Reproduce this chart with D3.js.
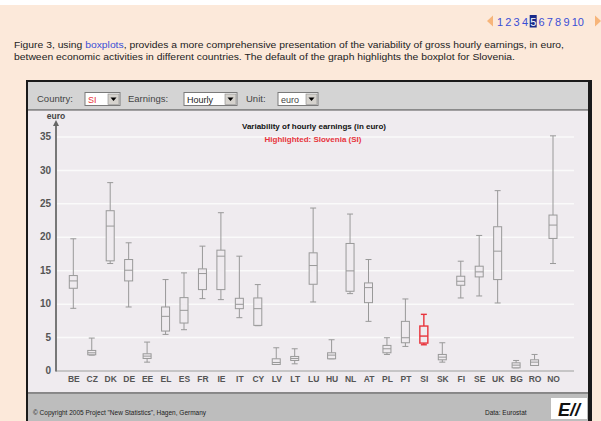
<!DOCTYPE html>
<html>
<head>
<meta charset="utf-8">
<script src="https://cdn.jsdelivr.net/npm/d3@7"></script>
<style>
  body { margin: 0; background: #fce9da; }
  svg { display: block; font-family: "Liberation Sans", Arial, sans-serif; }
</style>
</head>
<body>
<script>
// country codes along the x axis
var countries = ["BE","CZ","DK","DE","EE","EL","ES","FR","IE","IT","CY","LV","LT","LU",
                 "HU","NL","AT","PL","PT","SI","SK","FI","SE","UK","BG","RO","NO"];
// boxplot values per country (euro / hour)
var whiskLow = [9.3, 2.3, 16.0, 9.5, 1.25, 5.4, 6.1, 10.75, 10.6, 7.9, 6.7, 0.9, 1.0, 10.25,
                1.75, 11.5, 7.35, 2.4, 3.6, 3.85, 1.25, 10.85, 11.15, 10.1, 0.4, 0.75, 16.0];
var q1 =       [12.3, 2.35, 16.4, 13.4, 1.8, 5.9, 7.1, 12.1, 12.1, 9.25, 6.75, 0.9, 1.5, 12.9,
                1.75, 11.85, 10.15, 2.65, 4.15, 4.1, 1.6, 12.75, 14.0, 13.6, 0.4, 0.75, 19.75];
var medians =  [13.4, 2.65, 21.6, 15.0, 2.15, 8.1, 9.0, 14.5, 17.1, 9.9, 9.25, 1.2, 1.8, 15.7,
                2.3, 14.9, 12.4, 3.25, 4.9, 5.15, 2.0, 13.35, 14.75, 17.85, 0.8, 1.25, 21.75];
var q3 =       [14.2, 3.0, 23.9, 16.6, 2.5, 9.5, 10.9, 15.2, 18.0, 10.8, 10.85, 1.75, 2.1, 17.6,
                2.65, 19.0, 13.1, 3.75, 7.35, 6.65, 2.4, 14.1, 15.6, 21.5, 1.15, 1.6, 23.25];
var whiskHigh = [19.7, 4.85, 28.1, 19.1, 4.25, 13.6, 14.6, 18.6, 23.6, 17.1, 12.85, 3.4, 3.25, 24.3,
                4.6, 23.4, 16.6, 4.9, 10.7, 8.4, 4.15, 16.35, 20.2, 26.9, 1.5, 2.4, 35.1];
var highlight = "SI";
var yTicks = [0, 5, 10, 15, 20, 25, 30, 35];
var pages = ["1","2","3","4","5","6","7","8","9","10"];

var W = 601, H = 421;
var svg = d3.select("body").append("svg").attr("width", W).attr("height", H);

// page background
svg.append("rect").attr("width", W).attr("height", H).attr("fill", "#fce9da");
svg.append("rect").attr("width", W).attr("height", 5).attr("fill", "#fff");

// pagination
svg.append("path").attr("d", "M487,21 L493,15.5 L493,26.5 Z").attr("fill", "#f7b57a");
var px = 497;
pages.forEach(function(p) {
  var w = p.length * 6.1;
  if (p == "5") {
    svg.append("rect").attr("x", px - 0.5).attr("y", 15).attr("width", 7).attr("height", 12.5).attr("fill", "#1a2a8a");
  }
  svg.append("text").attr("x", px).attr("y", 25.5).attr("font-size", 11)
    .attr("fill", p == "5" ? "#fff" : "#3a4fd6").text(p);
  px += w + 2.2;
});
svg.append("path").attr("d", "M595,15.5 L601,21 L595,26.5 Z").attr("fill", "#f7b57a");

// paragraph
var p1 = svg.append("text").attr("x", 14).attr("y", 48).attr("font-size", 8.6).attr("fill", "#222")
  .attr("textLength", 550).attr("lengthAdjust", "spacingAndGlyphs");
p1.append("tspan").text("Figure 3, using ");
p1.append("tspan").attr("fill", "#3a4fd6").text("boxplots");
p1.append("tspan").text(", provides a more comprehensive presentation of the variability of gross hourly earnings, in euro,");
svg.append("text").attr("x", 14).attr("y", 60).attr("font-size", 8.6).attr("fill", "#222")
  .attr("textLength", 501).attr("lengthAdjust", "spacingAndGlyphs")
  .text("between economic activities in different countries. The default of the graph highlights the boxplot for Slovenia.");

// applet frame
svg.append("rect").attr("x", 26).attr("y", 80).attr("width", 566).attr("height", 345).attr("fill", "#1a1a1a");
svg.append("rect").attr("x", 28).attr("y", 82).attr("width", 560).attr("height", 27).attr("fill", "#d4d4d4");
svg.append("rect").attr("x", 28).attr("y", 109).attr("width", 560).attr("height", 1.5).attr("fill", "#8a8a8a");
svg.append("rect").attr("x", 28).attr("y", 110.5).attr("width", 560).attr("height", 282).attr("fill", "#efebef");
svg.append("rect").attr("x", 28).attr("y", 392.5).attr("width", 560).attr("height", 1.5).attr("fill", "#8a8a8a");
svg.append("rect").attr("x", 28).attr("y", 394).attr("width", 560).attr("height", 27).attr("fill", "#bdbdbd");

// toolbar controls
function label(x, t) {
  svg.append("text").attr("x", x).attr("y", 102).attr("font-size", 9.5).attr("fill", "#444").text(t);
}
function selectBox(x, w, t, col) {
  svg.append("rect").attr("x", x).attr("y", 92.5).attr("width", w).attr("height", 13)
    .attr("fill", "#fff").attr("stroke", "#7a7a7a");
  svg.append("text").attr("x", x + 3).attr("y", 102.5).attr("font-size", 9).attr("fill", col).text(t);
  svg.append("rect").attr("x", x + w - 12).attr("y", 94).attr("width", 11).attr("height", 10.5)
    .attr("fill", "#d6d3ce").attr("stroke", "#888").attr("stroke-width", 0.6);
  svg.append("path").attr("d", "M" + (x + w - 9.5) + ",97.5 h6 l-3,3.5 Z").attr("fill", "#000");
}
label(37, "Country:");
selectBox(85, 35, "SI", "#e8343c");
label(128, "Earnings:");
selectBox(184, 53, "Hourly", "#222");
label(246, "Unit:");
selectBox(278, 40, "euro", "#444");

// chart
var x = d3.scalePoint().domain(countries).range([73.3, 553]);
var y = d3.scaleLinear().domain([0, 35]).range([370.5, 136.5]);

// gridlines
svg.append("g")
  .attr("transform", "translate(56,0)")
  .call(d3.axisLeft(y).tickValues(yTicks.slice(1)).tickSize(-518).tickFormat(""))
  .call(function(g) { g.select(".domain").remove(); })
  .selectAll("line").attr("stroke", "#fafafa").attr("stroke-width", 1.5);

// y axis labels
svg.append("g")
  .attr("transform", "translate(56,0)")
  .attr("font-size", 10)
  .attr("font-family", "'Liberation Sans', Arial, sans-serif")
  .call(d3.axisLeft(y).tickValues(yTicks).tickSize(0).tickPadding(5))
  .call(function(g) { g.select(".domain").remove(); })
  .selectAll("text").attr("font-size", 10).attr("font-weight", "bold").attr("fill", "#555");

// x axis
var xg = svg.append("g")
  .attr("transform", "translate(0," + y(0) + ")")
  .attr("font-size", 8.5)
  .attr("font-family", "'Liberation Sans', Arial, sans-serif")
  .call(d3.axisBottom(x).tickSize(0).tickPadding(5));
xg.select(".domain").attr("stroke", "#b8b8b8").attr("stroke-width", 1.5).attr("d", "M56,0.5H574");
xg.selectAll("text").attr("font-size", 8.5).attr("font-weight", "bold").attr("fill", "#555");

// y axis arrow
svg.append("line").attr("x1", 56).attr("x2", 56).attr("y1", y(0) + 1).attr("y2", 124)
  .attr("stroke", "#777").attr("stroke-width", 2);
svg.append("path").attr("d", "M56,120 L53,126 L59,126 Z").attr("fill", "#666");
svg.append("text").attr("x", 56).attr("y", 119).attr("text-anchor", "middle")
  .attr("font-size", 8.5).attr("font-weight", "bold").attr("fill", "#444").text("euro");

// titles
svg.append("text").attr("x", 314).attr("y", 129).attr("text-anchor", "middle")
  .attr("font-size", 8).attr("font-weight", "bold").attr("fill", "#111")
  .text("Variability of hourly earnings (in euro)");
svg.append("text").attr("x", 313).attr("y", 141.5).attr("text-anchor", "middle")
  .attr("font-size", 8).attr("font-weight", "bold").attr("fill", "#e8343c")
  .text("Highlighted: Slovenia (SI)");

// boxplots
var data = countries.map(function(c, i) {
  return { c: c, lo: whiskLow[i], q1: q1[i], med: medians[i], q3: q3[i], hi: whiskHigh[i] };
});
var bw = 8, cw = 6;
var boxes = svg.append("g").selectAll("g").data(data).enter().append("g")
  .attr("stroke", function(d) { return d.c == highlight ? "#e8343c" : "#999"; })
  .attr("stroke-width", function(d) { return d.c == highlight ? 1.4 : 1; })
  .attr("fill", "none");
boxes.append("line")
  .attr("x1", function(d) { return x(d.c); }).attr("x2", function(d) { return x(d.c); })
  .attr("y1", function(d) { return y(d.hi); }).attr("y2", function(d) { return y(d.q3); });
boxes.append("line")
  .attr("x1", function(d) { return x(d.c); }).attr("x2", function(d) { return x(d.c); })
  .attr("y1", function(d) { return y(d.q1); }).attr("y2", function(d) { return y(d.lo); });
boxes.append("line")
  .attr("x1", function(d) { return x(d.c) - cw / 2; }).attr("x2", function(d) { return x(d.c) + cw / 2; })
  .attr("y1", function(d) { return y(d.hi); }).attr("y2", function(d) { return y(d.hi); });
boxes.append("line")
  .attr("x1", function(d) { return x(d.c) - cw / 2; }).attr("x2", function(d) { return x(d.c) + cw / 2; })
  .attr("y1", function(d) { return y(d.lo); }).attr("y2", function(d) { return y(d.lo); });
boxes.append("rect")
  .attr("x", function(d) { return x(d.c) - bw / 2; })
  .attr("y", function(d) { return y(d.q3); })
  .attr("width", bw)
  .attr("height", function(d) { return Math.max(1.5, y(d.q1) - y(d.q3)); })
  .attr("fill", "#efebef");
boxes.append("line")
  .attr("x1", function(d) { return x(d.c) - bw / 2; }).attr("x2", function(d) { return x(d.c) + bw / 2; })
  .attr("y1", function(d) { return y(d.med); }).attr("y2", function(d) { return y(d.med); });

// footer
svg.append("text").attr("x", 33).attr("y", 415).attr("font-size", 6.5).attr("fill", "#222")
  .text("\u00a9 Copyright 2005 Project \"New Statistics\", Hagen, Germany");
svg.append("text").attr("x", 485).attr("y", 415).attr("font-size", 6.5).attr("fill", "#222")
  .text("Data: Eurostat");
svg.append("rect").attr("x", 551).attr("y", 398).attr("width", 36).attr("height", 21).attr("fill", "#fff");
svg.append("text").attr("x", 569).attr("y", 416).attr("text-anchor", "middle")
  .attr("font-size", 18).attr("font-weight", "bold").attr("font-style", "italic")
  .attr("fill", "#111").text("E//");
</script>
</body>
</html>
